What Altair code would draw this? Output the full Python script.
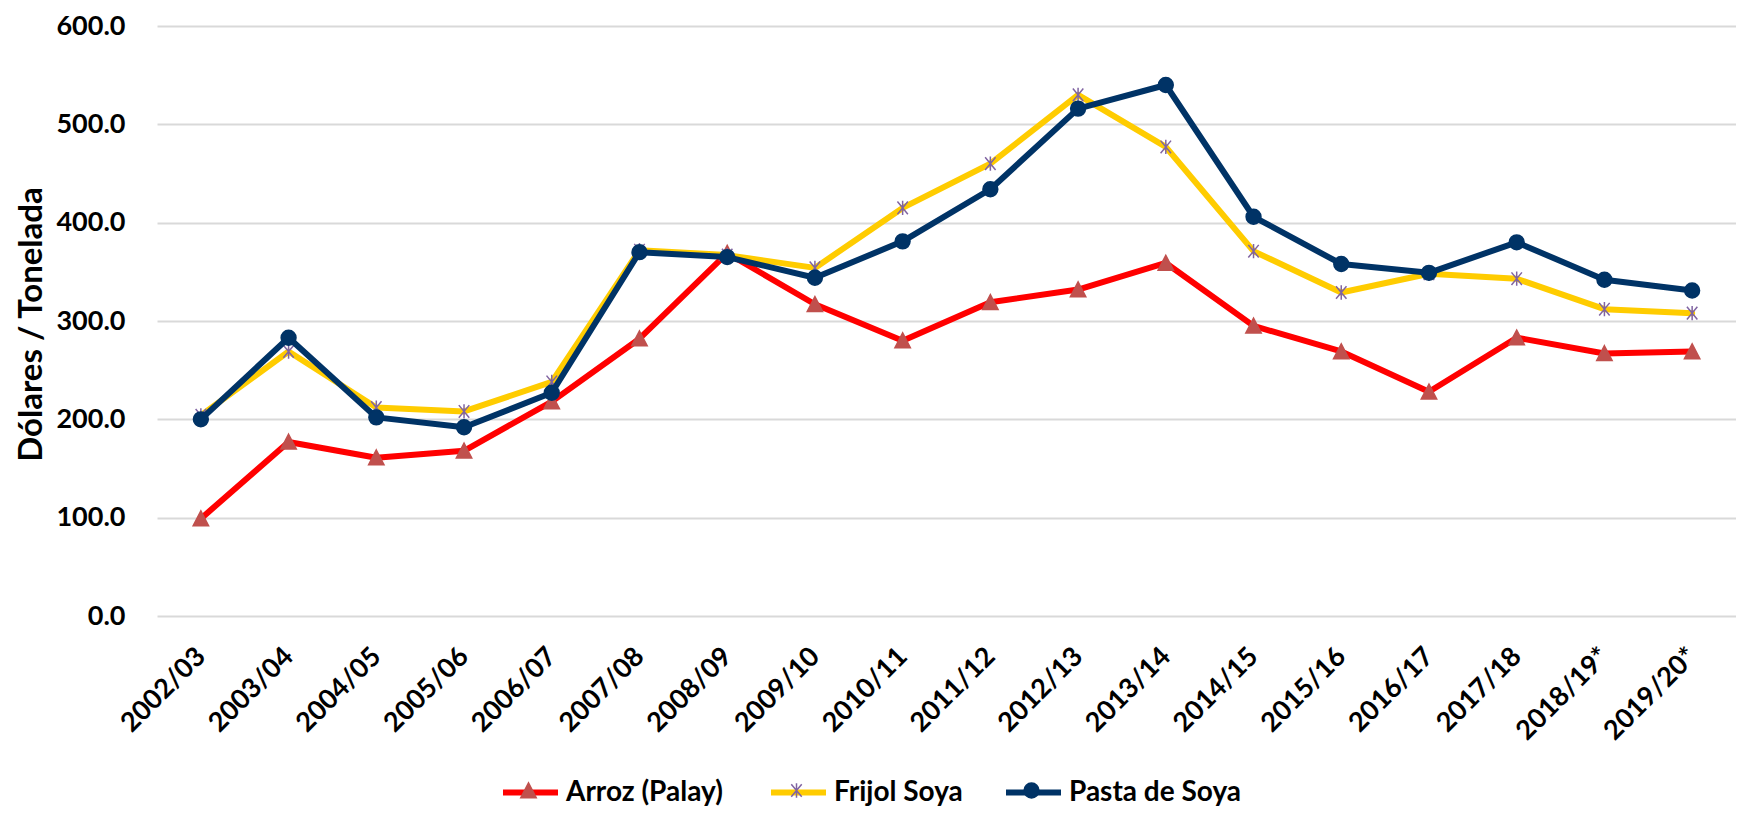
import altair as alt
import pandas as pd

seasons = ["2002/03", "2003/04", "2004/05", "2005/06", "2006/07", "2007/08",
           "2008/09", "2009/10", "2010/11", "2011/12", "2012/13", "2013/14",
           "2014/15", "2015/16", "2016/17", "2017/18", "2018/19*", "2019/20*"]
series_names = ["Arroz (Palay)", "Frijol Soya", "Pasta de Soya"]
arroz = [99, 177, 161, 168, 218, 282, 369, 317, 280, 319, 332, 359, 295, 269, 228, 283, 267, 269]
frijol = [204, 269, 212, 208, 238, 372, 367, 354, 415, 460, 530, 477, 371, 329, 348, 343, 312, 308]
pasta = [200, 283, 202, 192, 227, 370, 365, 344, 381, 434, 516, 540, 406, 358, 349, 380, 342, 331]
y_ticks = [0, 100, 200, 300, 400, 500, 600]

line_colors = ["#FF0000", "#FFCC00", "#003366"]
marker_colors = ["#C0504D", "#8064A2", "#003366"]
marker_shapes = [
    "M0,-0.28L0.28,0.26L-0.28,0.26Z",
    "M-0.19,-0.23L0.19,0.23M-0.19,0.23L0.19,-0.23M0,-0.26L0,0.26",
    "M0.27,0A0.27,0.27,0,1,1,-0.27,0A0.27,0.27,0,1,1,0.27,0Z",
]

FONT = "Lato"
SYM = 3025
PAD_TOP = 18
PLOT_H = 590
LEGEND_X = [343, 611, 846]
LEGEND_Y = 736

x = alt.X("season:N", sort=seasons,
          scale=alt.Scale(type="point", padding=0.5),
          axis=alt.Axis(title=None, labelAngle=315, labelAlign="right", labelBaseline="middle",
                        labelFont=FONT, labelFontWeight="bold", labelFontSize=27,
                        labelColor="black", labelPadding=36, ticks=False, domain=False,
                        grid=False, labelOverlap=False, labelLimit=0))
y = alt.Y("value:Q", scale=alt.Scale(domain=[0, 600], nice=False, zero=True),
          axis=alt.Axis(values=y_ticks, format=".1f", title="Dólares / Tonelada",
                        titleFont=FONT, titleFontSize=33, titleFontWeight="bold",
                        titleColor="black", titleAngle=270, titleBaseline="alphabetic",
                        titleAlign="center", titleX=-116, titleY=298,
                        labelFont=FONT, labelFontWeight="bold", labelFontSize=27,
                        labelColor="black", labelPadding=32, ticks=False, domain=False,
                        gridColor="#D9D9D9", gridWidth=2))


def legend_props(k):
    return dict(orient="none", legendX=LEGEND_X[k], legendY=LEGEND_Y, direction="horizontal",
                title=None, labelFont=FONT, labelFontSize=28, labelFontWeight="bold",
                labelOffset=5, symbolSize=SYM, padding=0, labelBaseline="middle",
                labelLimit=0)


layers = []
for k, (name, vals) in enumerate(zip(series_names, [arroz, frijol, pasta])):
    df = pd.DataFrame({
        "season": seasons,
        "idx": list(range(len(seasons))),
        "value": vals,
        "series": [name] * len(seasons),
    })
    line = alt.Chart(df).mark_line(strokeWidth=6, strokeJoin="round", strokeCap="round").encode(
        x=x, y=y,
        color=alt.Color("series:N", scale=alt.Scale(range=[line_colors[k]]),
                        legend=alt.Legend(symbolType="stroke", symbolStrokeWidth=6,
                                          labelColor="black", **legend_props(k))),
        order=alt.Order("idx:Q"),
    )
    pts = alt.Chart(df).mark_point(filled=True, size=SYM, strokeWidth=1.5, opacity=1,
                                   fill=marker_colors[k], stroke=marker_colors[k]).encode(
        x=x, y=y,
        shape=alt.Shape("series:N", scale=alt.Scale(range=[marker_shapes[k]]),
                        legend=alt.Legend(symbolStrokeWidth=1.5, labelExpr="''",
                                          **legend_props(k))),
    )
    layers += [line, pts]

chart = alt.layer(*layers).resolve_scale(color="independent", shape="independent").properties(
    width=1579, height=PLOT_H,
    padding={"left": 149, "top": PAD_TOP, "right": 0, "bottom": 799 - PAD_TOP - PLOT_H},
    autosize=alt.AutoSizeParams(type="none"),
    background="white",
).configure_view(stroke=None)

chart.save("out.html", embed_options={"renderer": "svg", "actions": False})
